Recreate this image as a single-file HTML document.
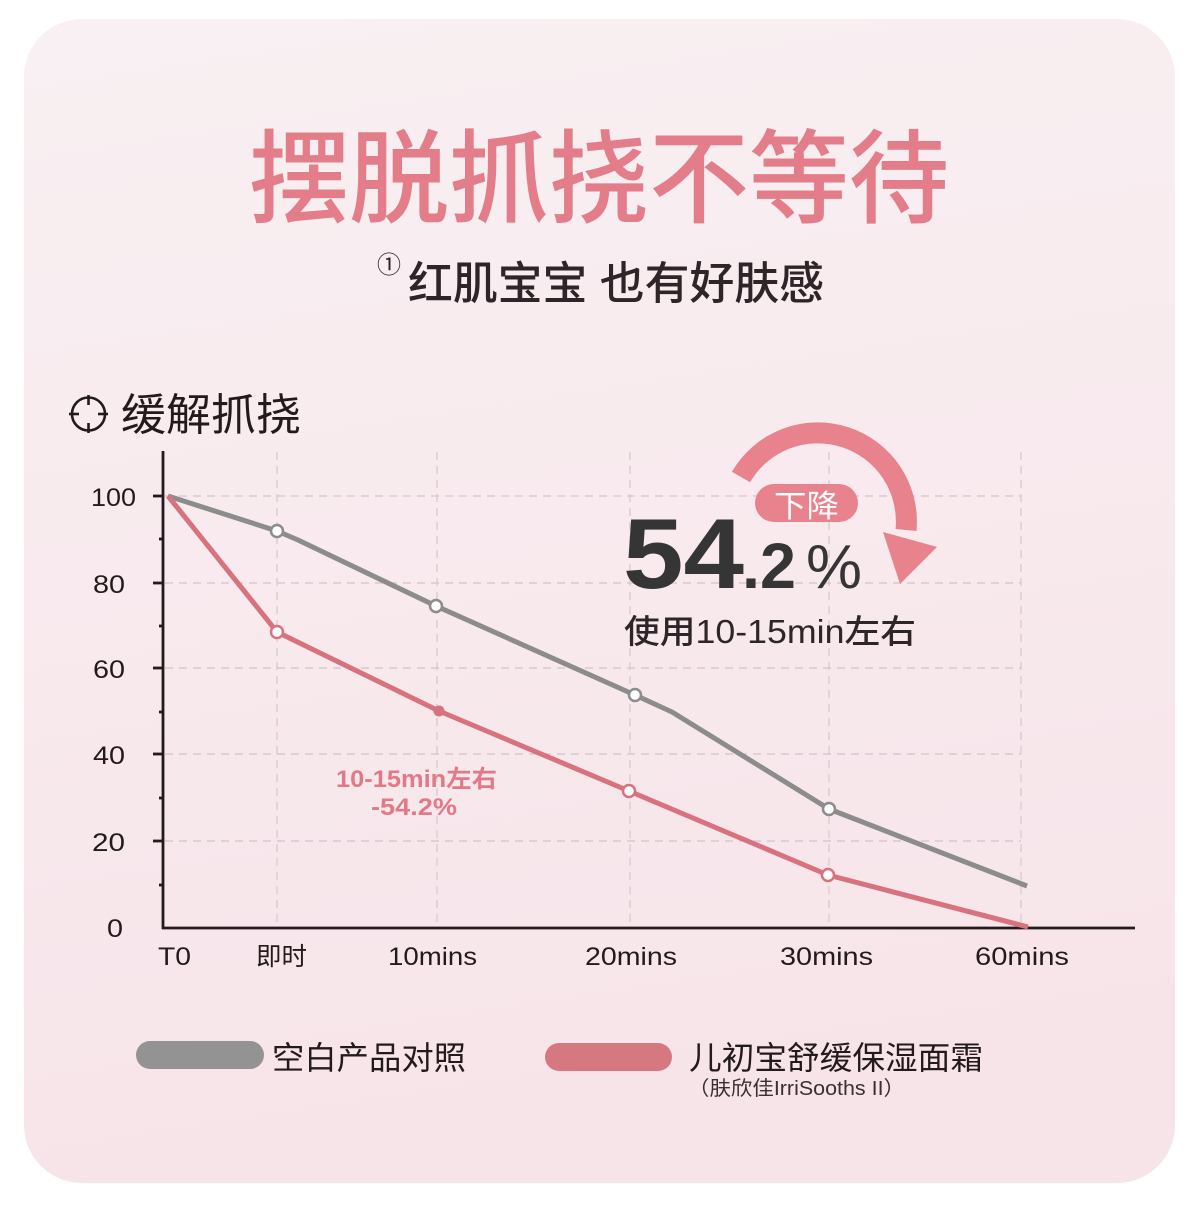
<!DOCTYPE html>
<html>
<head>
<meta charset="utf-8">
<style>
  html,body{margin:0;padding:0;background:#ffffff;}
  svg{display:block;}
  .cjk{font-family:"Liberation Sans","Noto Sans CJK SC",sans-serif;}
  .lat{font-family:"Liberation Sans","Noto Sans CJK SC",sans-serif;}
</style>
</head>
<body>
<svg width="1200" height="1211" viewBox="0 0 1200 1211" xmlns="http://www.w3.org/2000/svg">
  <defs>
    <linearGradient id="bg" x1="0" y1="0" x2="0.15" y2="1">
      <stop offset="0" stop-color="#f8f0f2"/>
      <stop offset="1" stop-color="#f7e4e9"/>
    </linearGradient>
  </defs>

  <!-- card -->
  <rect x="24" y="19" width="1151" height="1164" rx="58" ry="58" fill="url(#bg)"/>

  <!-- title -->
  <text class="cjk" x="249" y="215" font-size="102" font-weight="500" fill="#e27d89" textLength="700" lengthAdjust="spacingAndGlyphs">摆脱抓挠不等待</text>

  <!-- subtitle -->
  <text class="cjk" x="377" y="273" font-size="24" fill="#2d2527">①</text>
  <text class="cjk" x="408" y="299" font-size="45" font-weight="500" fill="#2d2527" textLength="416" lengthAdjust="spacingAndGlyphs">红肌宝宝 也有好肤感</text>

  <!-- section heading with crosshair -->
  <g stroke="#231a1c" stroke-width="2.6" fill="none">
    <circle cx="88.5" cy="414" r="16.5"/>
    <line x1="88.5" y1="395" x2="88.5" y2="405"/>
    <line x1="88.5" y1="423" x2="88.5" y2="433"/>
    <line x1="69" y1="414" x2="79" y2="414"/>
    <line x1="98" y1="414" x2="108" y2="414"/>
  </g>
  <text class="cjk" x="121" y="430" font-size="44" fill="#231a1c" textLength="180" lengthAdjust="spacingAndGlyphs">缓解抓挠</text>

  <!-- grid lines -->
  <g stroke="#d9c9cd" stroke-width="1.6" stroke-dasharray="8 6" fill="none">
    <line x1="165" y1="496" x2="1021" y2="496"/>
    <line x1="165" y1="583" x2="1021" y2="583"/>
    <line x1="165" y1="668" x2="1021" y2="668"/>
    <line x1="165" y1="754" x2="1021" y2="754"/>
    <line x1="165" y1="841" x2="1021" y2="841"/>
  </g>
  <g stroke="#d9c9cd" stroke-width="1.3" stroke-dasharray="8 6" fill="none">
    <line x1="277" y1="452" x2="277" y2="927"/>
    <line x1="437" y1="452" x2="437" y2="927"/>
    <line x1="630" y1="452" x2="630" y2="927"/>
    <line x1="829" y1="452" x2="829" y2="927"/>
    <line x1="1021" y1="452" x2="1021" y2="927"/>
  </g>

  <!-- axes -->
  <g stroke="#231a1c" stroke-width="2.8" fill="none">
    <line x1="163" y1="451" x2="163" y2="929"/>
    <line x1="162" y1="928" x2="1135" y2="928"/>
    <line x1="153" y1="496" x2="163" y2="496"/>
    <line x1="153" y1="583" x2="163" y2="583"/>
    <line x1="153" y1="668" x2="163" y2="668"/>
    <line x1="153" y1="754" x2="163" y2="754"/>
    <line x1="153" y1="841" x2="163" y2="841"/>
    <line x1="159" y1="539" x2="163" y2="539"/>
    <line x1="159" y1="626" x2="163" y2="626"/>
    <line x1="159" y1="712" x2="163" y2="712"/>
    <line x1="159" y1="798" x2="163" y2="798"/>
    <line x1="159" y1="885" x2="163" y2="885"/>
  </g>

  <!-- y labels -->
  <g class="lat" font-size="25" fill="#231a1c">
    <text x="91" y="506" textLength="45" lengthAdjust="spacingAndGlyphs">100</text>
    <text x="93" y="593" textLength="32" lengthAdjust="spacingAndGlyphs">80</text>
    <text x="93" y="678" textLength="32" lengthAdjust="spacingAndGlyphs">60</text>
    <text x="93" y="764" textLength="32" lengthAdjust="spacingAndGlyphs">40</text>
    <text x="92" y="851" textLength="33" lengthAdjust="spacingAndGlyphs">20</text>
    <text x="107" y="937" textLength="16" lengthAdjust="spacingAndGlyphs">0</text>
  </g>

  <!-- x labels -->
  <g class="lat" font-size="25" fill="#231a1c">
    <text x="158" y="965" textLength="33" lengthAdjust="spacingAndGlyphs">T0</text>
    <text x="256" y="965" textLength="51" lengthAdjust="spacingAndGlyphs">即时</text>
    <text x="388" y="965" textLength="89" lengthAdjust="spacingAndGlyphs">10mins</text>
    <text x="585" y="965" textLength="92" lengthAdjust="spacingAndGlyphs">20mins</text>
    <text x="780" y="965" textLength="93" lengthAdjust="spacingAndGlyphs">30mins</text>
    <text x="975" y="965" textLength="94" lengthAdjust="spacingAndGlyphs">60mins</text>
  </g>

  <!-- series -->
  <polyline points="168,496 277,531 298,540 436,606 635,695 672,712 829,809 1027,886" fill="none" stroke="#8c8c8c" stroke-width="5" stroke-linejoin="round"/>
  <polyline points="168,496 277,632 439,711 629,791 828,875 1028,927" fill="none" stroke="#d7727e" stroke-width="5" stroke-linejoin="round"/>

  <g fill="#ffffff" stroke="#8c8c8c" stroke-width="2.5">
    <circle cx="277" cy="531" r="6"/>
    <circle cx="436" cy="606" r="6"/>
    <circle cx="635" cy="695" r="6"/>
    <circle cx="829" cy="809" r="6"/>
  </g>
  <g fill="#ffffff" stroke="#d7727e" stroke-width="2.5">
    <circle cx="277" cy="632" r="6"/>
    <circle cx="629" cy="791" r="6"/>
    <circle cx="828" cy="875" r="6"/>
  </g>
  <circle cx="439" cy="711" r="5.5" fill="#d7727e"/>

  <!-- annotation -->
  <g class="lat" font-weight="700" fill="#e27987" font-size="24">
    <text x="336" y="787" textLength="161" lengthAdjust="spacingAndGlyphs">10-15min左右</text>
    <text x="371" y="815" textLength="86" lengthAdjust="spacingAndGlyphs">-54.2%</text>
  </g>

  <!-- big arrow -->
  <path d="M741,477 A88.7,88.7 0 0 1 906,530" fill="none" stroke="#e8838e" stroke-width="21"/>
  <polygon points="883,532 937,547 900,584" fill="#e8838e"/>

  <!-- pill -->
  <rect x="755" y="484" width="103" height="38" rx="19" fill="#e8838e"/>
  <text class="cjk" x="774" y="517" font-size="31" font-weight="400" fill="#ffffff" textLength="65" lengthAdjust="spacingAndGlyphs">下降</text>

  <!-- big number -->
  <text class="lat" x="623" y="588" font-size="99" font-weight="700" fill="#353535" textLength="121" lengthAdjust="spacingAndGlyphs">54</text>
  <text class="lat" x="742" y="588" font-size="64" font-weight="700" fill="#353535" textLength="54" lengthAdjust="spacingAndGlyphs">.2</text>
  <text class="lat" x="806" y="588" font-size="62" font-weight="400" fill="#353535" textLength="56" lengthAdjust="spacingAndGlyphs">%</text>

  <text class="lat" x="624" y="643" font-size="33" font-weight="500" fill="#2d2527" textLength="292" lengthAdjust="spacingAndGlyphs">使用10-15min左右</text>

  <!-- legend -->
  <rect x="136" y="1041" width="128" height="28" rx="14" fill="#939393"/>
  <text class="cjk" x="272" y="1069" font-size="32" fill="#231a1c" textLength="194" lengthAdjust="spacingAndGlyphs">空白产品对照</text>

  <rect x="545" y="1043" width="127" height="28" rx="14" fill="#d67880"/>
  <text class="cjk" x="689" y="1069" font-size="32" fill="#231a1c" textLength="294" lengthAdjust="spacingAndGlyphs">儿初宝舒缓保湿面霜</text>
  <text class="cjk" x="688" y="1095" font-size="20" fill="#3a3033" textLength="217" lengthAdjust="spacingAndGlyphs">（肤欣佳IrriSooths II）</text>
</svg>
</body>
</html>
